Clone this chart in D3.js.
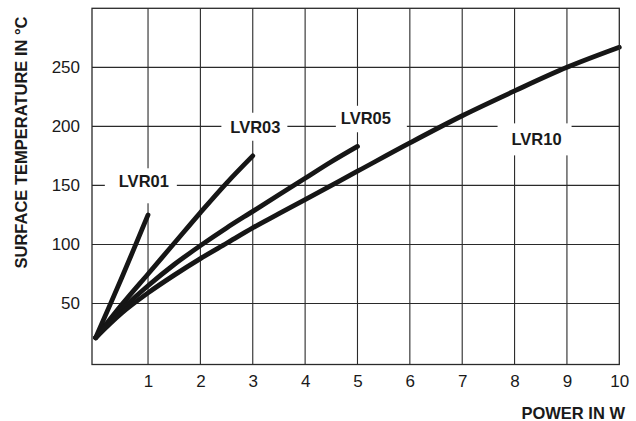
<!DOCTYPE html>
<html>
<head>
<meta charset="utf-8">
<script src="https://cdn.jsdelivr.net/npm/d3@7"></script>
<style>
  html, body { margin: 0; padding: 0; background: #fff; }
  svg { display: block; }
  text { font-family: "Liberation Sans", Arial, Helvetica, sans-serif; fill: #1a1a1a; }
</style>
</head>
<body>
<svg id="chart" width="636" height="421"></svg>
<script>
// ---- data ----
const xTicks = [1, 2, 3, 4, 5, 6, 7, 8, 9, 10];
const yTicks = [50, 100, 150, 200, 250];

const lvr01Power = [0, 0.5, 1];
const lvr01Temp  = [21, 72, 125];

const lvr03Power = [0, 0.5, 1, 1.5, 2, 2.5, 3];
const lvr03Temp  = [21, 49, 75, 101, 127, 152, 175];

const lvr05Power = [0, 0.5, 1, 1.5, 2, 2.5, 3, 3.5, 4, 4.5, 5];
const lvr05Temp  = [21, 45, 65, 83, 99, 114, 128, 142, 156, 170, 183];

const lvr10Power = [0, 0.5, 1, 1.5, 2, 2.5, 3, 3.5, 4, 5, 6, 7, 8, 9, 10];
const lvr10Temp  = [21, 42, 59, 74, 88, 101, 114, 126, 138, 162, 186, 209, 230, 250, 267];

const seriesNames = ["LVR01", "LVR03", "LVR05", "LVR10"];

(function () {
// ---- layout ----
const svg = d3.select("#chart");
const mLeft = 92, mRight = 619.3, mTop = 8.3, mBottom = 364.5;

const x = d3.scaleLinear().domain([-0.07, 10]).range([mLeft, mRight]);
const y = d3.scaleLinear().domain([-1.7, 300]).range([mBottom, mTop]);

const gridColor = "#2a2a2a";

// grid
const grid = svg.append("g");
grid.selectAll("line.v").data(xTicks.filter(d => d < 10)).enter().append("line")
  .attr("x1", d => x(d)).attr("x2", d => x(d))
  .attr("y1", mTop).attr("y2", mBottom)
  .attr("stroke", gridColor).attr("stroke-width", 1.1);
grid.selectAll("line.h").data(yTicks).enter().append("line")
  .attr("x1", mLeft).attr("x2", mRight)
  .attr("y1", d => y(d)).attr("y2", d => y(d))
  .attr("stroke", gridColor).attr("stroke-width", 1.1);

// label layout (annotation positions in data units, box offsets in px)
const labelLayout = [
  { name: seriesNames[0], px: 0.92, t: 148.4, box: [-39, 33, -19, 16] },
  { name: seriesNames[1], px: 3.05, t: 194.6, box: [-34, 32, -20, 8] },
  { name: seriesNames[2], px: 5.16, t: 202.2, box: [-30, 41, -18, 8.5] },
  { name: seriesNames[3], px: 8.42, t: 183.9, box: [-39, 35, -22, 10] }
];

const labels = svg.append("g");
labelLayout.forEach(l => {
  const cx = x(l.px), by = y(l.t);
  labels.append("rect")
    .attr("x", cx + l.box[0]).attr("y", by + l.box[2])
    .attr("width", l.box[1] - l.box[0]).attr("height", l.box[3] - l.box[2])
    .attr("fill", "#fff");
  labels.append("text")
    .attr("x", cx).attr("y", by)
    .attr("text-anchor", "middle")
    .attr("font-size", "16.5px").attr("font-weight", "bold")
    .text(l.name);
});

// curves
const series = [
  { name: seriesNames[0], p: lvr01Power, t: lvr01Temp },
  { name: seriesNames[1], p: lvr03Power, t: lvr03Temp },
  { name: seriesNames[2], p: lvr05Power, t: lvr05Temp },
  { name: seriesNames[3], p: lvr10Power, t: lvr10Temp }
];
const line = d3.line()
  .x(d => x(d[0])).y(d => y(d[1]))
  .curve(d3.curveCatmullRom.alpha(0.5));
svg.append("g").selectAll("path").data(series).enter().append("path")
  .attr("d", s => line(s.p.map((v, i) => [v, s.t[i]])))
  .attr("fill", "none")
  .attr("stroke", "#161616")
  .attr("stroke-width", 4.8)
  .attr("stroke-linecap", "round")
  .attr("stroke-linejoin", "round");

// frame
svg.append("rect")
  .attr("x", mLeft).attr("y", mTop)
  .attr("width", mRight - mLeft).attr("height", mBottom - mTop)
  .attr("fill", "none").attr("stroke", gridColor).attr("stroke-width", 1.3);

// x axis tick labels (axis without tick marks)
const xAxis = d3.axisBottom(x).tickValues(xTicks).tickSize(0).tickPadding(10)
  .tickFormat(d3.format("d"));
const gx = svg.append("g").attr("transform", `translate(0,${mBottom})`).call(xAxis);
gx.select(".domain").remove();
gx.selectAll("text").attr("font-size", "17px").attr("fill", "#1a1a1a")
  .attr("font-family", "'Liberation Sans', Arial, sans-serif");

// y axis tick labels
const yAxis = d3.axisLeft(y).tickValues(yTicks).tickSize(0).tickPadding(12)
  .tickFormat(d3.format("d"));
const gy = svg.append("g").attr("transform", `translate(${mLeft},0)`).call(yAxis);
gy.select(".domain").remove();
gy.selectAll("text").attr("font-size", "17px").attr("fill", "#1a1a1a")
  .attr("font-family", "'Liberation Sans', Arial, sans-serif");

// axis titles
svg.append("text")
  .attr("x", 625).attr("y", 418.5)
  .attr("text-anchor", "end")
  .attr("font-size", "16.5px").attr("font-weight", "bold")
  .text("POWER IN W");

svg.append("text")
  .attr("transform", "translate(27,142.5) rotate(-90)")
  .attr("text-anchor", "middle")
  .attr("font-size", "16.5px").attr("font-weight", "bold")
  .text("SURFACE TEMPERATURE IN °C");
})();
</script>
</body>
</html>
